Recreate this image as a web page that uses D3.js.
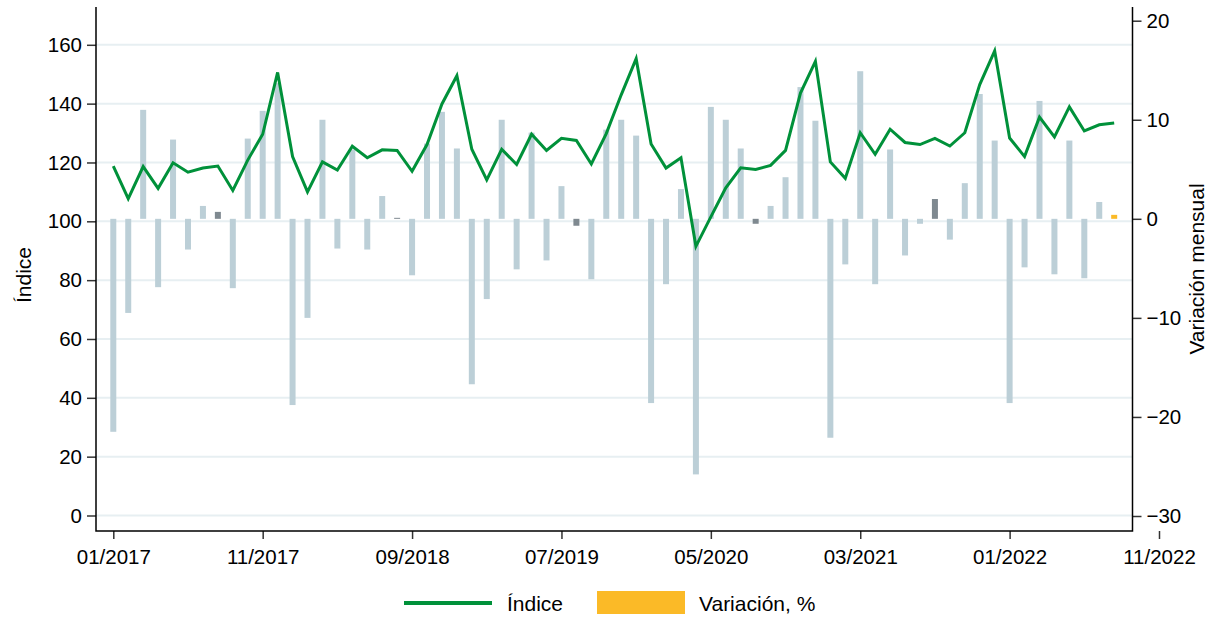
<!DOCTYPE html>
<html>
<head>
<meta charset="utf-8">
<script src="https://cdn.jsdelivr.net/npm/d3@7"></script>
<style>
  body { margin: 0; background: #fff; }
  text { font-family: "Liberation Sans", Arial, sans-serif; fill: #000; }
</style>
</head>
<body>
<svg id="chart"></svg>
<script>
// monthly data, 01/2017 .. 08/2022
const indice = [
  118.8, 107.7, 118.6, 111.2, 119.9, 116.7, 118.1, 118.8, 110.5, 120.8,
  129.6, 150.6, 122.0, 110.0, 120.2, 117.4, 125.5, 121.6, 124.3, 124.1,
  117.0, 126.1, 139.9, 149.5, 124.5, 114.1, 124.5, 119.3, 129.6, 124.1,
  128.2, 127.5, 119.5, 129.8, 143.0, 155.3, 126.3, 118.1, 121.6, 91.5,
  101.5, 111.4, 118.2, 117.6, 119.0, 124.1, 143.6, 154.4, 120.2, 114.6,
  130.1, 122.8, 131.3, 126.8, 126.1, 128.2, 125.6, 130.1, 146.5, 157.9,
  128.3, 122.0, 135.4, 128.7, 138.9, 130.7, 132.8, 133.4
];

const variacion = [
  -21.5, -9.5, 11.0, -6.9, 8.0, -3.1, 1.3, 0.7, -7.0, 8.1,
  10.9, 13.7, -18.8, -10.0, 10.0, -3.0, 7.0, -3.1, 2.3, 0.1,
  -5.7, 7.6, 10.8, 7.1, -16.7, -8.1, 10.0, -5.1, 8.7, -4.2,
  3.3, -0.7, -6.1, 9.0, 10.0, 8.4, -18.6, -6.6, 3.0, -25.8,
  11.3, 10.0, 7.1, -0.5, 1.3, 4.2, 13.3, 9.9, -22.1, -4.6,
  14.9, -6.6, 7.0, -3.7, -0.5, 2.0, -2.1, 3.6, 12.6, 7.9,
  -18.6, -4.9, 11.9, -5.6, 7.9, -6.0, 1.7, 0.4
];

const tickLabels = ["01/2017", "11/2017", "09/2018", "07/2019", "05/2020", "03/2021", "01/2022", "11/2022"];
const leftTicks = [0, 20, 40, 60, 80, 100, 120, 140, 160];
const rightTicks = [-30, -20, -10, 0, 10, 20];

const width = 1217;
const height = 618;
const plot = {left: 96, right: 1132.5, top: 7, bottom: 531};

const svg = d3.select("#chart")
    .attr("width", width)
    .attr("height", height);

// month index scale (0 = 01/2017)
const x = d3.scaleLinear()
    .domain([0, 70])
    .range([113.3, 1159]);

const yLeft = d3.scaleLinear()
    .domain([0, 160])
    .range([515.5, 44.8]);

const yRight = d3.scaleLinear()
    .domain([-30, 20])
    .range([516, 20.7]);

// gridlines
svg.append("g")
    .selectAll("line")
    .data(leftTicks)
    .join("line")
        .attr("x1", plot.left)
        .attr("x2", plot.right)
        .attr("y1", d => yLeft(d))
        .attr("y2", d => yLeft(d))
        .style("stroke", "#e7eff2")
        .style("stroke-width", 2);

// bars: August in dark grey, the latest month in yellow
const barW = 6;
const last = variacion.length - 1;
function barColor(i) {
    if (i === last) return "#fbba27";
    if (i % 12 === 7) return "#7f8990";
    return "#bccfd7";
}

svg.append("g")
    .selectAll("rect")
    .data(variacion)
    .join("rect")
        .attr("x", (d, i) => x(i) - barW / 2)
        .attr("y", d => yRight(Math.max(0, d)))
        .attr("width", barW)
        .attr("height", d => Math.abs(yRight(d) - yRight(0)))
        .style("fill", (d, i) => barColor(i));

// index line
const line = d3.line()
    .x((d, i) => x(i))
    .y(d => yLeft(d));

svg.append("path")
    .datum(indice)
    .attr("d", line)
    .style("fill", "none")
    .style("stroke", "#00913a")
    .style("stroke-width", 3)
    .style("stroke-linejoin", "miter");

// axes
const leftAxis = svg.append("g")
    .attr("transform", "translate(" + plot.left + ",0)")
    .call(d3.axisLeft(yLeft).tickValues(leftTicks).tickSize(9).tickPadding(5));
leftAxis.select(".domain").remove();

const rightAxis = svg.append("g")
    .attr("transform", "translate(" + plot.right + ",0)")
    .call(d3.axisRight(yRight).tickValues(rightTicks).tickSize(9).tickPadding(5));
rightAxis.select(".domain").remove();

const bottomAxis = svg.append("g")
    .attr("transform", "translate(0," + plot.bottom + ")")
    .call(d3.axisBottom(x)
        .tickValues(d3.range(0, 71, 10))
        .tickFormat((d, i) => tickLabels[i])
        .tickSize(8)
        .tickPadding(10));
bottomAxis.select(".domain").remove();

svg.selectAll(".tick text")
    .style("font-family", "'Liberation Sans', Arial, sans-serif")
    .style("font-size", "20.5px")
    .style("fill", "#000");
svg.selectAll(".tick line")
    .style("stroke", "#333")
    .style("stroke-width", 1.5);

// frame: left, bottom, right lines
const frame = svg.append("path")
    .attr("d", "M" + plot.left + "," + plot.top + "V" + plot.bottom + "H" + plot.right + "V" + plot.top)
    .style("fill", "none")
    .style("stroke", "#000")
    .style("stroke-width", 1.5);

// axis titles
svg.append("text")
    .attr("transform", "translate(31,275) rotate(-90)")
    .style("text-anchor", "middle")
    .style("font-size", "21px")
    .text("Índice");

svg.append("text")
    .attr("transform", "translate(1204,269) rotate(-90)")
    .style("text-anchor", "middle")
    .style("font-size", "21px")
    .text("Variación mensual");

// legend
const legend = svg.append("g");
legend.append("line")
    .attr("x1", 404).attr("x2", 492)
    .attr("y1", 603).attr("y2", 603)
    .style("stroke", "#00913a")
    .style("stroke-width", 4);
legend.append("text")
    .attr("x", 507).attr("y", 611)
    .style("font-size", "21px")
    .text("Índice");
legend.append("rect")
    .attr("x", 597).attr("y", 591)
    .attr("width", 88).attr("height", 23)
    .style("fill", "#fbba27");
legend.append("text")
    .attr("x", 699).attr("y", 611)
    .style("font-size", "21px")
    .text("Variación, %");
</script>
</body>
</html>
